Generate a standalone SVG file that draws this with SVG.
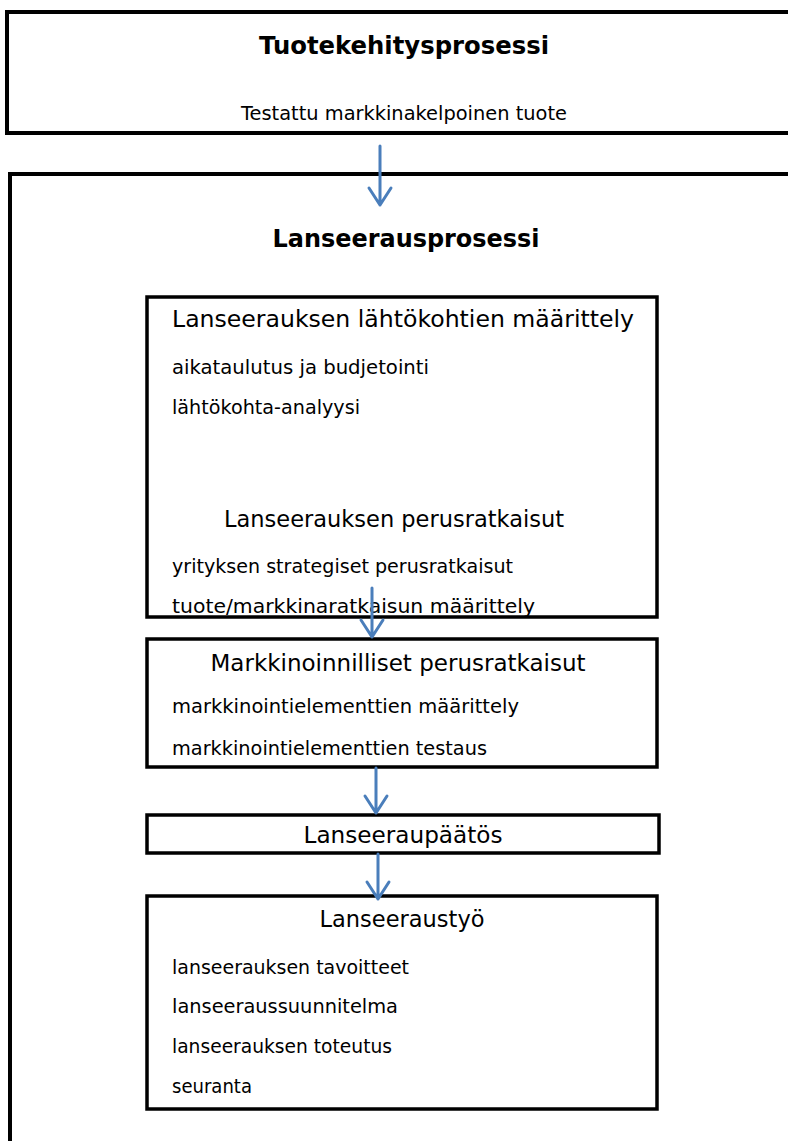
<svg xmlns="http://www.w3.org/2000/svg" width="788" height="1141" viewBox="0 0 788 1141">
  <style>
    .frame { fill: #ffffff; stroke: #000000; stroke-width: 4; }
    .box { fill: #ffffff; stroke: #000000; stroke-width: 3.5; }
    .title { font-family: "DejaVu Sans", Verdana, sans-serif; font-weight: bold; font-size: 24px; fill: #000; text-anchor: middle; }
    .head { font-family: "DejaVu Sans", Verdana, sans-serif; font-size: 23px; fill: #000; text-anchor: middle; }
    .sub { font-family: "DejaVu Sans", Verdana, sans-serif; font-size: 19px; fill: #000; text-anchor: middle; }
    .item { font-family: "DejaVu Sans", Verdana, sans-serif; font-size: 19.5px; fill: #000; }
    .conn { stroke: #4a7ebb; stroke-width: 3; fill: none; stroke-linecap: round; stroke-linejoin: round; }
  </style>

  <!-- Product development process -->
  <g id="tuotekehitys">
    <rect class="frame" x="7" y="12" width="800" height="121"/>
    <text class="title" x="404" y="54" textLength="290" lengthAdjust="spacingAndGlyphs">Tuotekehitysprosessi</text>
    <text class="sub" x="404" y="120" textLength="326" lengthAdjust="spacingAndGlyphs">Testattu markkinakelpoinen tuote</text>
  </g>

  <!-- Launch process frame -->
  <g id="lanseeraus">
    <rect class="frame" x="10" y="174" width="800" height="1000"/>
    <text class="title" x="406" y="247" textLength="267" lengthAdjust="spacingAndGlyphs">Lanseerausprosessi</text>
  </g>

  <!-- Starting points and basic solutions -->
  <g id="lahtokohdat">
    <rect class="box" x="147" y="297" width="510" height="320"/>
    <text class="head" x="403" y="327" textLength="462" lengthAdjust="spacingAndGlyphs">Lanseerauksen lähtökohtien määrittely</text>
    <text class="item" x="172" y="374" textLength="257" lengthAdjust="spacingAndGlyphs">aikataulutus ja budjetointi</text>
    <text class="item" x="172" y="414" textLength="188" lengthAdjust="spacingAndGlyphs">lähtökohta-analyysi</text>
    <text class="head" x="394" y="527" textLength="340" lengthAdjust="spacingAndGlyphs">Lanseerauksen perusratkaisut</text>
    <text class="item" x="172" y="573" textLength="341" lengthAdjust="spacingAndGlyphs">yrityksen strategiset perusratkaisut</text>
    <text class="item" x="172" y="613" textLength="363" lengthAdjust="spacingAndGlyphs">tuote/markkinaratkaisun määrittely</text>
  </g>

  <!-- Marketing basic solutions -->
  <g id="markkinointi">
    <rect class="box" x="147" y="639" width="510" height="128"/>
    <text class="head" x="398" y="671" textLength="375" lengthAdjust="spacingAndGlyphs">Markkinoinnilliset perusratkaisut</text>
    <text class="item" x="172" y="713" textLength="347" lengthAdjust="spacingAndGlyphs">markkinointielementtien määrittely</text>
    <text class="item" x="172" y="755" textLength="315" lengthAdjust="spacingAndGlyphs">markkinointielementtien testaus</text>
  </g>

  <!-- Launch decision -->
  <g id="paatos">
    <rect class="box" x="147" y="815" width="512" height="38"/>
    <text class="head" x="403" y="843" textLength="199" lengthAdjust="spacingAndGlyphs">Lanseeraupäätös</text>
  </g>

  <!-- Launch work -->
  <g id="lanseeraustyo">
    <rect class="box" x="147" y="896" width="510" height="213"/>
    <text class="head" x="402" y="927" textLength="165" lengthAdjust="spacingAndGlyphs">Lanseeraustyö</text>
    <text class="item" x="172" y="974" textLength="237" lengthAdjust="spacingAndGlyphs">lanseerauksen tavoitteet</text>
    <text class="item" x="172" y="1013" textLength="226" lengthAdjust="spacingAndGlyphs">lanseeraussuunnitelma</text>
    <text class="item" x="172" y="1053" textLength="220" lengthAdjust="spacingAndGlyphs">lanseerauksen toteutus</text>
    <text class="item" x="172" y="1093" textLength="80" lengthAdjust="spacingAndGlyphs">seuranta</text>
  </g>

  <!-- Connectors -->
  <g id="connectors">
    <path class="conn" d="M380 146 V205 M369 188 L380 205 L391 188"/>
    <path class="conn" d="M372 588 V637 M361 620 L372 637 L383 620"/>
    <path class="conn" d="M376 768 V813 M365 796 L376 813 L387 796"/>
    <path class="conn" d="M378 854 V899 M367 882 L378 899 L389 882"/>
  </g>
</svg>
